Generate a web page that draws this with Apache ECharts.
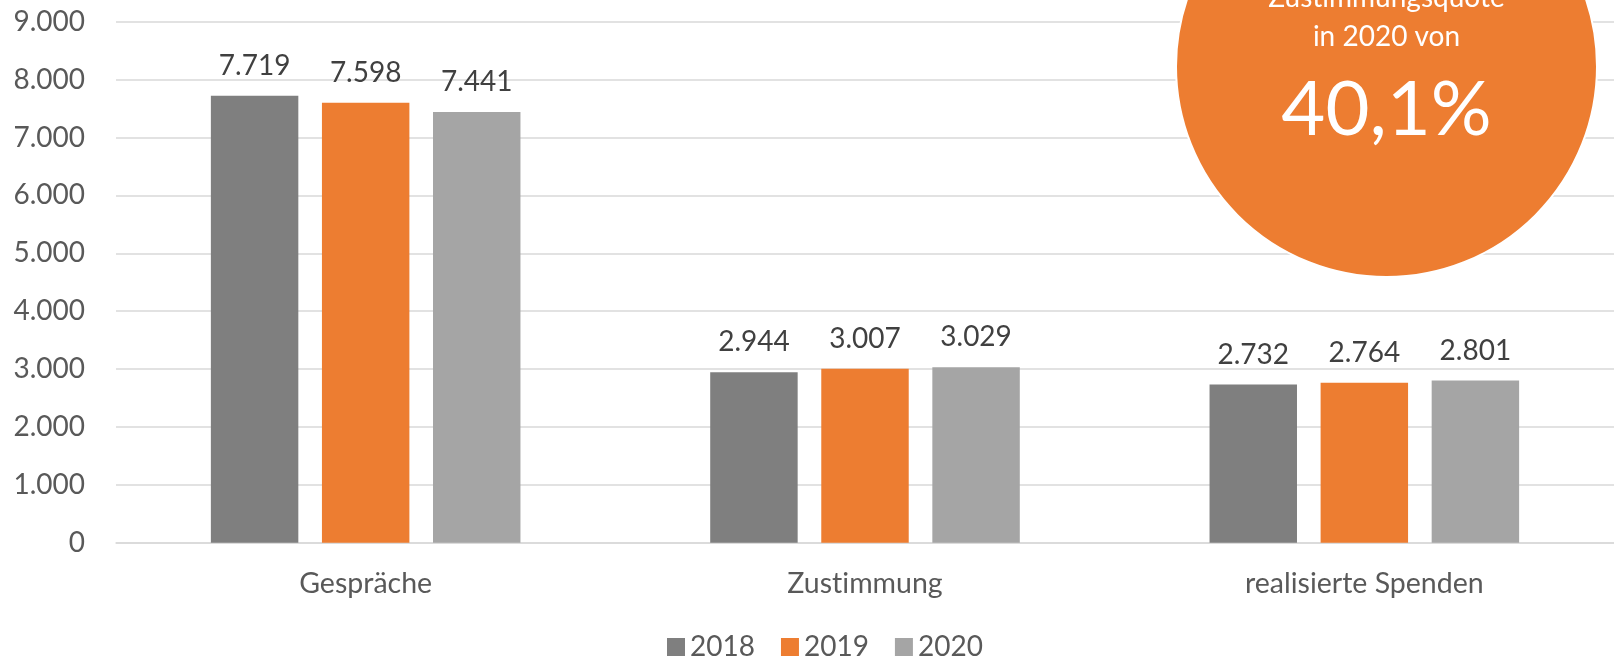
<!DOCTYPE html>
<html lang="de">

<head>
    <meta charset="UTF-8">
    <title>Gespräche, Zustimmung, realisierte Spenden</title>
    <script src="https://cdnjs.cloudflare.com/ajax/libs/echarts/6.0.0/echarts.min.js"></script>
    <style>
        html, body { margin: 0; padding: 0; background: #fff; }
    </style>
</head>

<body>
    <div id="main" style="width: 1614px;height:659px;"></div>

    <script>
        // Daten
        const categories = ['Gespräche', 'Zustimmung', 'realisierte Spenden'];
        const years = ['2018', '2019', '2020'];
        const v2018 = [7719, 2944, 2732];
        const v2019 = [7598, 3007, 2764];
        const v2020 = [7441, 3029, 2801];
        const yMin = 0, yMax = 9000, yStep = 1000;
        const quoteLines = ['Zustimmungsquote', 'in 2020 von'];
        const quoteValue = '40,1%';

        const colors = ['#7F7F7F', '#ED7D31', '#A5A5A5'];
        const font = 'Lato';

        // Tausenderpunkt
        function fmt(v) {
            return String(v).replace(/\B(?=(\d{3})+(?!\d))/g, '.');
        }

        // keine "ti"-Ligatur (wie im Original)
        function noLig(s) {
            return s.replace(/ti/g, 't\u200Ci');
        }

        const myChart = echarts.init(document.getElementById('main'));

        function makeSeries(name, data) {
            return {
                name: name,
                type: 'bar',
                data: data,
                barGap: '27%',
                barCategoryGap: '38%',
                label: {
                    show: true,
                    position: 'top',
                    distance: 16,
                    fontFamily: font,
                    fontSize: 28,
                    color: '#404040',
                    formatter: (p) => fmt(p.value)
                }
            };
        }

        let option = {
            color: colors,
            animation: false,
            grid: {
                left: 116,
                right: 0,
                top: 21.7,
                bottom: 116.3,
                containLabel: false,
                outerBoundsMode: 'none'
            },
            legend: {
                data: years,
                left: 667,
                top: 633,
                padding: 0,
                icon: 'rect',
                itemWidth: 18,
                itemHeight: 18,
                itemGap: 26,
                textStyle: {
                    fontFamily: font,
                    fontSize: 28,
                    lineHeight: 28,
                    color: '#595959'
                }
            },
            xAxis: {
                type: 'category',
                data: categories,
                axisTick: { show: false },
                axisLine: { lineStyle: { color: '#D9D9D9', width: 1.5 } },
                axisLabel: {
                    margin: 27,
                    fontFamily: font,
                    fontSize: 28.5,
                    color: '#595959',
                    formatter: (v) => noLig(v)
                }
            },
            yAxis: {
                type: 'value',
                min: yMin,
                max: yMax,
                interval: yStep,
                axisLine: { show: false },
                axisTick: { show: false },
                splitLine: { lineStyle: { color: '#D9D9D9', width: 1.5 } },
                axisLabel: {
                    margin: 31,
                    fontFamily: font,
                    fontSize: 28,
                    color: '#595959',
                    formatter: (v) => fmt(v)
                }
            },
            series: [
                makeSeries(years[0], v2018),
                makeSeries(years[1], v2019),
                makeSeries(years[2], v2020)
            ],
            graphic: [
                {
                    type: 'circle',
                    z: 100,
                    shape: { cx: 1386.5, cy: 66.5, r: 210.5 },
                    style: { fill: '#ED7D31', stroke: '#fff', lineWidth: 2 }
                },
                {
                    type: 'text',
                    z: 101,
                    x: 1386.5,
                    y: -2,
                    style: {
                        text: noLig(quoteLines[0]),
                        fill: '#fff',
                        font: '28px ' + font,
                        textAlign: 'center',
                        textVerticalAlign: 'middle'
                    }
                },
                {
                    type: 'text',
                    z: 101,
                    x: 1386.5,
                    y: 36.5,
                    style: {
                        text: quoteLines[1],
                        fill: '#fff',
                        font: '28px ' + font,
                        textAlign: 'center',
                        textVerticalAlign: 'middle'
                    }
                },
                {
                    type: 'text',
                    z: 101,
                    x: 1386.5,
                    y: 110,
                    style: {
                        text: quoteValue,
                        fill: '#fff',
                        font: '76px ' + font,
                        textAlign: 'center',
                        textVerticalAlign: 'middle'
                    }
                }
            ]
        };

        myChart.setOption(option);
    </script>
</body>

</html>
